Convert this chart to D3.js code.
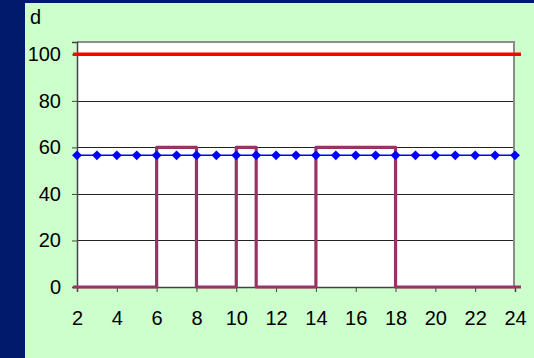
<!DOCTYPE html>
<html>
<head>
<meta charset="utf-8">
<script src="https://cdn.jsdelivr.net/npm/d3@7"></script>
<style>
  html, body { margin: 0; padding: 0; background: #021a6b; }
  svg { display: block; }
  text { font-family: "Liberation Sans", Arial, sans-serif; fill: #000; }
</style>
</head>
<body>
<svg id="chart" width="534" height="358"></svg>
<script>
// Categories along the x axis (hours)
const hours = d3.range(2, 25);
const xTickValues = [2, 4, 6, 8, 10, 12, 14, 16, 18, 20, 22, 24];
const yTickValues = [0, 20, 40, 60, 80, 100];

// Constant series with diamond markers
const blueValues = hours.map(() => 56.6);

// Upper limit line
const limitX = [1.8, 24.3];
const limitValue = 100;

// Step series (on/off profile)
const stepX = [1.8, 6, 6, 8, 8, 10, 10, 11, 11, 14, 14, 18, 18, 24.3];
const stepY = [0, 0, 60, 60, 0, 0, 60, 60, 0, 0, 60, 60, 0, 0];

const yAxisTitle = "d";

const svg = d3.select("#chart");
const W = 534, H = 358;

// Light green panel
svg.append("rect").attr("x", 25).attr("y", 3).attr("width", W - 25).attr("height", H - 3)
  .attr("fill", "#ccffcc");

const plot = { left: 77, top: 42, right: 515, bottom: 287 };
const x = d3.scaleLinear().domain([2, 24]).range([plot.left, plot.right]);
const y = d3.scaleLinear().domain([0, 105.3]).range([plot.bottom, plot.top]);

// Plot area
svg.append("rect")
  .attr("x", plot.left).attr("y", plot.top)
  .attr("width", plot.right - plot.left).attr("height", plot.bottom - plot.top)
  .attr("fill", "#ffffff");

// Plot area border (top and right)
svg.append("path")
  .attr("d", `M${plot.left},${plot.top}H${plot.right - 1}V${plot.bottom}`)
  .attr("fill", "none").attr("stroke", "#8c8c8c").attr("stroke-width", 2);

// Horizontal gridlines
svg.append("g").selectAll("line")
  .data(yTickValues.filter(v => v > 0))
  .join("line")
  .attr("x1", plot.left).attr("x2", plot.right - 2)
  .attr("y1", d => Math.round(y(d)) + 0.5).attr("y2", d => Math.round(y(d)) + 0.5)
  .attr("stroke", "#222").attr("stroke-width", 1);

// Y axis
const yAxis = svg.append("g")
  .attr("transform", `translate(${plot.left},0)`)
  .call(d3.axisLeft(y).tickValues(yTickValues).tickSize(5).tickPadding(11).tickFormat(d3.format("d")));
yAxis.select(".domain").attr("stroke", "#444").attr("stroke-width", 1.5);
yAxis.selectAll(".tick line").attr("stroke", "#444");
yAxis.selectAll("text").attr("font-size", 20).attr("font-family", "Liberation Sans, Arial, sans-serif");

// X axis
const xAxis = svg.append("g")
  .attr("transform", `translate(0,${plot.bottom})`)
  .call(d3.axisBottom(x).tickValues(xTickValues).tickSize(5).tickPadding(19).tickFormat(d3.format("d")));
xAxis.select(".domain").attr("stroke", "#444").attr("stroke-width", 1.5);
xAxis.selectAll(".tick line").attr("stroke", "#444");
xAxis.selectAll("text").attr("font-size", 20).attr("font-family", "Liberation Sans, Arial, sans-serif");

// Axis title
svg.append("text").attr("x", 30).attr("y", 24).attr("font-size", 20).text(yAxisTitle);

// Step series
const stepLine = d3.line().x(d => x(d[0])).y(d => y(d[1]));
svg.append("path")
  .datum(stepX.map((v, i) => [v, stepY[i]]))
  .attr("d", stepLine)
  .attr("fill", "none").attr("stroke", "#993366").attr("stroke-width", 3.2)
  .attr("stroke-linejoin", "round");

// Constant series with diamonds
const blueLine = d3.line().x((d, i) => x(hours[i])).y(d => y(d));
svg.append("path")
  .datum(blueValues)
  .attr("d", blueLine)
  .attr("fill", "none").attr("stroke", "#0000ff").attr("stroke-width", 1.6);
svg.append("g").selectAll("path")
  .data(blueValues)
  .join("path")
  .attr("d", d3.symbol(d3.symbolDiamond2, 62))
  .attr("transform", (d, i) => `translate(${x(hours[i])},${y(d)})`)
  .attr("fill", "#0000ff");

// Limit line
svg.append("path")
  .datum(limitX)
  .attr("d", d3.line().x(d => x(d)).y(() => y(limitValue)))
  .attr("fill", "none").attr("stroke", "#ff0000").attr("stroke-width", 3.5);
</script>
</body>
</html>
